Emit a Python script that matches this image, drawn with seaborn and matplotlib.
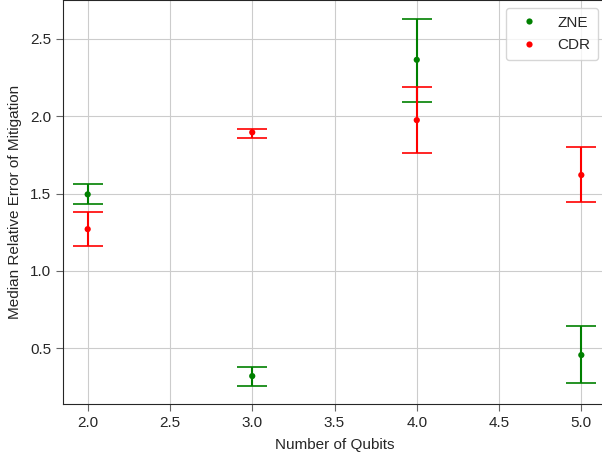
import matplotlib.pyplot as plt
import seaborn as sns
import pandas as pd

# data
qubits = [2, 3, 4, 5]
zne_median = [1.495, 0.32, 2.365, 0.456]
zne_low = [1.43, 0.258, 2.09, 0.273]
zne_high = [1.56, 0.379, 2.63, 0.645]
cdr_median = [1.27, 1.896, 1.975, 1.62]
cdr_low = [1.16, 1.857, 1.76, 1.448]
cdr_high = [1.383, 1.92, 2.19, 1.80]

sns.set_style("whitegrid", {"axes.edgecolor": ".15", "xtick.bottom": True, "ytick.left": True})
plt.rcParams["font.family"] = ["Liberation Sans", "DejaVu Sans"]

fig = plt.figure(figsize=(6.02, 4.61), dpi=100)
ax = fig.add_axes([63 / 602, 57 / 461, 543 / 602, 403.5 / 461])

df = pd.DataFrame({
    "Number of Qubits": qubits * 2,
    "Median": zne_median + cdr_median,
    "Method": ["ZNE"] * 4 + ["CDR"] * 4,
})

series = [("ZNE", zne_median, zne_low, zne_high, "green"),
          ("CDR", cdr_median, cdr_low, cdr_high, "red")]
for name, med, lo, hi, col in series:
    yerr = [[m - l for m, l in zip(med, lo)], [h - m for m, h in zip(med, hi)]]
    ax.errorbar(qubits, med, yerr=yerr, fmt="none", ecolor=col, elinewidth=1.5,
                capsize=11, capthick=1.2)

sns.scatterplot(data=df, x="Number of Qubits", y="Median", hue="Method",
                palette={"ZNE": "green", "CDR": "red"}, s=20, linewidth=0, ax=ax, zorder=3)

ax.set_xlabel("Number of Qubits", fontsize=11, color=".15", labelpad=6)
ax.set_ylabel("Median Relative Error of Mitigation", fontsize=11, color=".15", labelpad=6)
ax.tick_params(labelsize=11, colors=".15", length=5, color=".4")
ax.legend(loc="upper right", fontsize=11, markerscale=1.0, borderpad=0.5,
          handletextpad=0.9, labelspacing=0.55)
ax.grid(True, color=".8")

fig.savefig("out.png", dpi=100)
